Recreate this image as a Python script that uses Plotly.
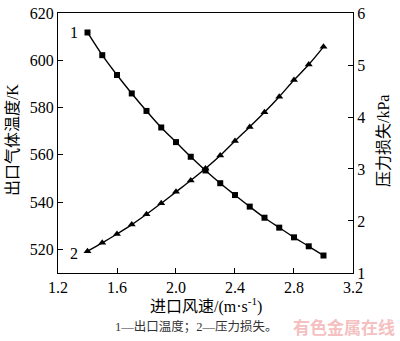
import plotly.graph_objects as go

speed = [1.4, 1.5, 1.6, 1.7, 1.8, 1.9, 2.0, 2.1, 2.2, 2.3, 2.4, 2.5, 2.6, 2.7, 2.8, 2.9, 3.0]
outlet_temp = [611.8, 602.2, 593.8, 586.0, 578.6, 571.6, 565.4, 559.2, 553.4, 548.0,
               543.0, 538.1, 533.4, 529.2, 525.1, 521.3, 517.4]
pressure_loss = [1.42, 1.58, 1.75, 1.93, 2.13, 2.34, 2.56, 2.78, 3.01, 3.26,
                 3.54, 3.81, 4.09, 4.39, 4.71, 5.01, 5.35]
x_ticks = [1.2, 1.6, 2.0, 2.4, 2.8, 3.2]
y_ticks = [520, 540, 560, 580, 600, 620]
y2_ticks = [1, 2, 3, 4, 5, 6]

FONT = "Liberation Serif, Noto Sans CJK SC"

fig = go.Figure()
fig.add_trace(go.Scatter(
    x=speed, y=outlet_temp, mode="lines+markers",
    line=dict(color="black", width=1.4, shape="spline"),
    marker=dict(symbol="square", size=6, color="black"),
    showlegend=False))
fig.add_trace(go.Scatter(
    x=speed, y=pressure_loss, mode="lines+markers", yaxis="y2",
    line=dict(color="black", width=1.4, shape="spline"),
    marker=dict(symbol="triangle-up", size=7, color="black"),
    showlegend=False))

axis_common = dict(showgrid=False, zeroline=False, showline=True, linecolor="black",
                   linewidth=1.2, ticks="inside", ticklen=5, tickcolor="black",
                   ticklabeloverflow="allow",
                   tickfont=dict(family=FONT, size=16, color="black"))

fig.update_layout(
    width=400, height=341,
    margin=dict(l=58, r=47, t=5, b=68),
    paper_bgcolor="white", plot_bgcolor="white",
    xaxis=dict(range=[1.2, 3.2001], tickvals=x_ticks, ticktext=[f"{v:.1f}" for v in x_ticks],
               mirror=True, **axis_common),
    yaxis=dict(range=[510, 620.05], tickvals=y_ticks, ticktext=[str(v) for v in y_ticks],
               **axis_common),
    yaxis2=dict(range=[0.9995, 6.0005], tickvals=y2_ticks, ticktext=[str(v) for v in y2_ticks],
                overlaying="y", side="right", **axis_common),
    font=dict(family=FONT, color="black"),
)

annos = [
    dict(text="出口气体温度/K", x=12, y=136, textangle=-90, size=16),
    dict(text="压力损失/kPa", x=383, y=137, textangle=-90, size=16),
    dict(text="进口风速/(m·s<sup>-1</sup>)", x=206, y=306, textangle=0, size=16),
]
for a in annos:
    fig.add_annotation(text=a["text"], xref="paper", yref="paper",
                       x=(a["x"] - 58) / 295, y=1 - (a["y"] - 5) / 268,
                       showarrow=False, textangle=a["textangle"],
                       font=dict(family=FONT, size=a["size"], color="black"),
                       xanchor="center", yanchor="middle")

fig.add_annotation(text="1—出口温度；2—压力损失。", xref="paper", yref="paper",
                   x=(113 - 58) / 295, y=1 - (328 - 5) / 268, xanchor="left", yanchor="middle",
                   showarrow=False, font=dict(family=FONT, size=12.5, color="#333333"))
fig.add_annotation(text="<b>有色金属在线</b>", xref="paper", yref="paper",
                   x=(397 - 58) / 295, y=1 - (328 - 5) / 268, xanchor="right", yanchor="middle",
                   showarrow=False, font=dict(family="Noto Sans CJK SC", size=17, color="#f4c0c0"))

fig.add_annotation(text="1", x=speed[0], y=outlet_temp[0], xref="x", yref="y",
                   xshift=-14, showarrow=False, font=dict(family=FONT, size=16, color="black"))
fig.add_annotation(text="2", x=speed[0], y=pressure_loss[0], xref="x", yref="y2",
                   xshift=-14, yshift=-2, showarrow=False, font=dict(family=FONT, size=16, color="black"))

fig.write_html("out.html")
